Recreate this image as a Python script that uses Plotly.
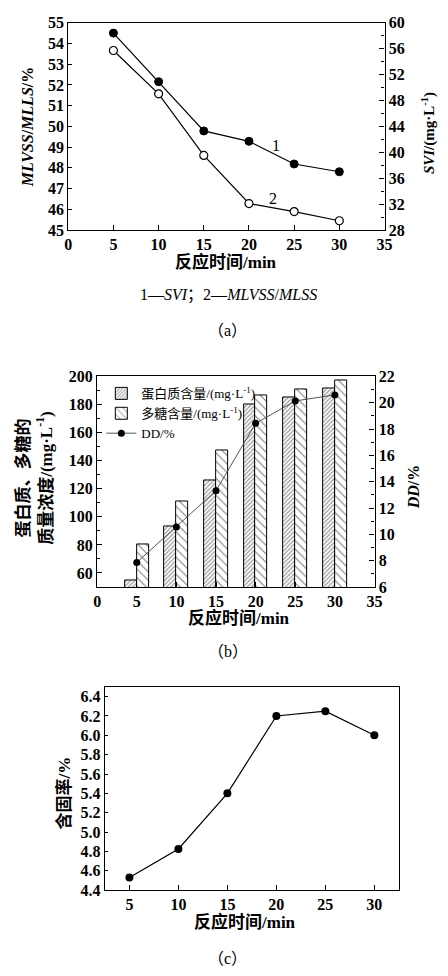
import plotly.graph_objects as go

# ---- data ----
time_min = [5, 10, 15, 20, 25, 30]
# panel (a)
svi = [58.4, 50.9, 43.3, 41.7, 38.2, 37.0]
mlvss_mlss = [53.66, 51.57, 48.6, 46.28, 45.89, 45.45]
# panel (b)
protein = [55, 93.5, 126, 180.4, 185.3, 191.6]
polysaccharide = [80.6, 110.7, 147.5, 186.4, 190.6, 197.2]
dd = [7.87, 10.56, 13.32, 18.44, 20.14, 20.6]
# panel (c)
solid_rate = [4.53, 4.825, 5.40, 6.20, 6.25, 6.00]

W, H = 448, 976
SERIF = "Liberation Serif, Noto Sans CJK SC, serif"
CJK = "Liberation Serif, Noto Sans CJK SC, serif"
tickfont = dict(family="Liberation Serif, serif", size=16, color="black", weight="bold")

def px_x(p):
    return p / W

def px_y(p):
    return 1 - p / H

fig = go.Figure()

# ---- panel (a) ----
fig.add_trace(go.Scatter(x=time_min, y=svi, xaxis="x", yaxis="y2", mode="lines+markers",
                         line=dict(color="black", width=1.2),
                         marker=dict(color="black", size=8, line=dict(color="black", width=1)),
                         showlegend=False))
fig.add_trace(go.Scatter(x=time_min, y=mlvss_mlss, xaxis="x", yaxis="y", mode="lines+markers",
                         line=dict(color="black", width=1.2),
                         marker=dict(color="white", size=8, line=dict(color="black", width=1.2)),
                         showlegend=False))

# ---- panel (b) ----
fig.add_trace(go.Bar(x=time_min, y=protein, xaxis="x2", yaxis="y3", width=1.5, offset=-1.5,
                     name="蛋白质含量/(mg·L<sup>-1</sup>)",
                     marker=dict(color="white", line=dict(color="black", width=1),
                                 pattern=dict(shape="/", size=3, solidity=0.4,
                                              fgcolor="#333", bgcolor="white"))))
fig.add_trace(go.Bar(x=time_min, y=polysaccharide, xaxis="x2", yaxis="y3", width=1.5, offset=0,
                     name="多糖含量/(mg·L<sup>-1</sup>)",
                     marker=dict(color="white", line=dict(color="black", width=1),
                                 pattern=dict(shape="\\", size=6, solidity=0.18,
                                              fgcolor="black", bgcolor="white"))))
fig.add_trace(go.Scatter(x=time_min, y=dd, xaxis="x2", yaxis="y4", mode="lines+markers",
                         name="DD/%",
                         line=dict(color="#555", width=1),
                         marker=dict(color="black", size=7)))

# ---- panel (c) ----
fig.add_trace(go.Scatter(x=time_min, y=solid_rate, xaxis="x3", yaxis="y5", mode="lines+markers",
                         line=dict(color="black", width=1.2),
                         marker=dict(color="black", size=8),
                         showlegend=False))

axis_common = dict(showgrid=False, zeroline=False, showline=True, linecolor="black",
                   linewidth=1.2, ticks="inside", tickcolor="black", tickfont=tickfont)

fig.update_layout(
    width=W, height=H, margin=dict(l=0, r=0, t=0, b=0),
    paper_bgcolor="white", plot_bgcolor="white",
    font=dict(family=SERIF, color="black"),
    bargap=0,
    # panel (a)
    xaxis=dict(domain=[px_x(66), px_x(391)], anchor="y", range=[0, 35], dtick=5,
               tick0=0, ticklen=5, mirror=True, **axis_common),
    yaxis=dict(domain=[px_y(226), px_y(15)], anchor="x", range=[45, 55], dtick=1,
               ticklen=4, **axis_common),
    yaxis2=dict(overlaying="y", side="right", anchor="x", range=[28, 60], dtick=4,
                ticklen=5, minor=dict(dtick=2, ticks="inside", ticklen=3, tickcolor="black"),
                **axis_common),
    # panel (b)
    xaxis2=dict(domain=[px_x(95.7), px_x(380.7)], anchor="y3", range=[0, 35], dtick=5,
                tick0=0, ticklen=5, mirror=True, **axis_common),
    yaxis3=dict(domain=[px_y(589.3), px_y(375)], anchor="x2", range=[50, 200], dtick=20,
                tick0=0, ticklen=5, minor=dict(dtick=10, ticks="inside", ticklen=3, tickcolor="black"),
                **axis_common),
    yaxis4=dict(overlaying="y3", side="right", anchor="x2", range=[6, 22], dtick=2,
                ticklen=5, minor=dict(dtick=1, ticks="inside", ticklen=3, tickcolor="black"),
                **axis_common),
    # panel (c)
    xaxis3=dict(domain=[px_x(103.7), px_x(405.7)], anchor="y5", range=[2.5, 32.5], dtick=5,
                tick0=0, ticklen=5, mirror=True, **axis_common),
    yaxis5=dict(domain=[px_y(897.7), px_y(691)], anchor="x3", range=[4.4, 6.5], dtick=0.2,
                tick0=4.4, tickformat=".1f", ticklen=3, mirror=True, **axis_common),
    legend=dict(x=px_x(100), y=px_y(377), xanchor="left", yanchor="top",
                bgcolor="rgba(0,0,0,0)", borderwidth=0, traceorder="normal",
                font=dict(family=SERIF, size=13, color="black"),
                itemwidth=30, tracegroupgap=0),
)

ann = []
def add_text(x, y, text, size=16, angle=0, bold=False, family=CJK, xref="paper", yref="paper"):
    ann.append(dict(x=x, y=y, xref=xref, yref=yref, text=text, showarrow=False,
                    textangle=angle, xanchor="center", yanchor="middle",
                    font=dict(family=family, size=size, color="black",
                              weight="bold" if bold else "normal")))

# panel (a) texts
add_text(23.0, 41.0, "1", size=16, family=SERIF, xref="x", yref="y2")
add_text(22.7, 46.5, "2", size=16, family=SERIF, xref="x", yref="y")
add_text(px_x(25), px_y(121), "<i>MLVSS</i>/<i>MLLS</i>/%", size=16, angle=-90, bold=True, family=SERIF)
add_text(px_x(436), px_y(127), "<i>SVI</i>/(mg·L<sup>-1</sup>)", size=15, angle=-90, bold=True, family=SERIF)
add_text(px_x(228), px_y(258), "反应时间/min", size=17, bold=True)
add_text(px_x(231), px_y(292), "1—<i>SVI</i>；2—<i>MLVSS</i>/<i>MLSS</i>", size=16, family=SERIF)
add_text(px_x(230), px_y(328), "（a）", size=16, family=SERIF)

# panel (b) texts
add_text(px_x(31), px_y(478), "蛋白质、多糖的<br>质量浓度/(mg·L<sup>-1</sup>)", size=17, angle=-90, bold=True)
add_text(px_x(421), px_y(487), "<i>DD</i>/%", size=16, angle=-90, bold=True, family=SERIF)
add_text(px_x(241), px_y(621), "反应时间/min", size=17, bold=True)
add_text(px_x(230), px_y(655), "（b）", size=16, family=SERIF)

# panel (c) texts
add_text(px_x(62), px_y(799), "含固率/%", size=17, angle=-90, bold=True)
add_text(px_x(248), px_y(930), "反应时间/min", size=17, bold=True)
add_text(px_x(230), px_y(967), "（c）", size=16, family=SERIF)

fig.update_layout(annotations=ann)
fig.write_html("out.html", config={"displayModeBar": False},
               post_script="document.body.style.margin='0';document.body.style.overflow='hidden';")
